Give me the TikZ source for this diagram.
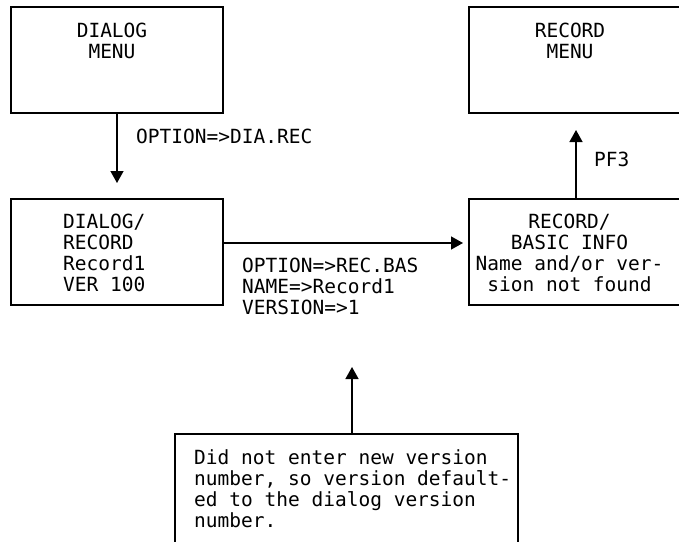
\documentclass[tikz,border=0pt]{standalone}
\usepackage{fontspec}
\setmainfont{DejaVu Sans Mono}
\usetikzlibrary{arrows.meta}
\newcommand\myl[1]{\begin{tabular}[t]{@{}l@{}}#1\end{tabular}}
\newcommand\myc[1]{\begin{tabular}[t]{@{}c@{}}#1\end{tabular}}
\begin{document}
\begin{tikzpicture}[x=1pt,y=-1pt,
  box/.style={draw,line width=1.4pt,rectangle,inner sep=0pt},
  txt/.style={inner sep=0pt,font=\fontsize{19.5}{21.3}\selectfont},
  conn/.style={line width=1.4pt,-{Triangle[length=12pt,width=13pt]}}]
\useasboundingbox (0,0) rectangle (679,541);
\clip (0,0) rectangle (679,541);
% boxes
\node[box,minimum width=212pt,minimum height=106pt] (b1) at (117,60) {};
\node[box,minimum width=212pt,minimum height=106pt] (b2) at (117,252) {};
\node[box,minimum width=231pt,minimum height=106pt] (b3) at (584.5,60) {};
\node[box,minimum width=231pt,minimum height=106pt] (b4) at (584.5,252) {};
\node[box,minimum width=343pt,minimum height=130pt] (b5) at (346.5,499) {};
% box texts
\node[txt,anchor=base] (l1) at (112,37) {\myc{DIALOG\\MENU}};
\node[txt,anchor=base] (l3) at (570,37) {\myc{RECORD\\MENU}};
\node[txt,anchor=base west] (l2) at (63,228) {\myl{DIALOG/\\RECORD\\Record1\\VER 100}};
\node[txt,anchor=base] (l4) at (569.5,228) {\myc{RECORD/\\BASIC INFO\\Name and/or ver-\\sion not found}};
\node[txt,anchor=base west] (l5) at (194,464) {\myl{Did not enter new version\\number, so version default-\\ed to the dialog version\\number.}};
% connector labels
\node[txt,anchor=base west] (o1) at (136,143) {OPTION=>DIA.REC};
\node[txt,anchor=base west] (o2) at (242,272) {\myl{OPTION=>REC.BAS\\NAME=>Record1\\VERSION=>1}};
\node[txt,anchor=base west] (o3) at (594,166) {PF3};
% connector ends
\coordinate (t1) at (117,183);
\coordinate (t2) at (463,243);
\coordinate (t3) at (576,130);
\coordinate (t4) at (352,367);
\draw[conn] (b1.south) -- (t1);
\draw[conn] (b2.east |- t2) -- (t2);
\draw[conn] (t3 |- b4.north) -- (t3);
\draw[conn] (t4 |- b5.north) -- (t4);
\end{tikzpicture}
\end{document}
